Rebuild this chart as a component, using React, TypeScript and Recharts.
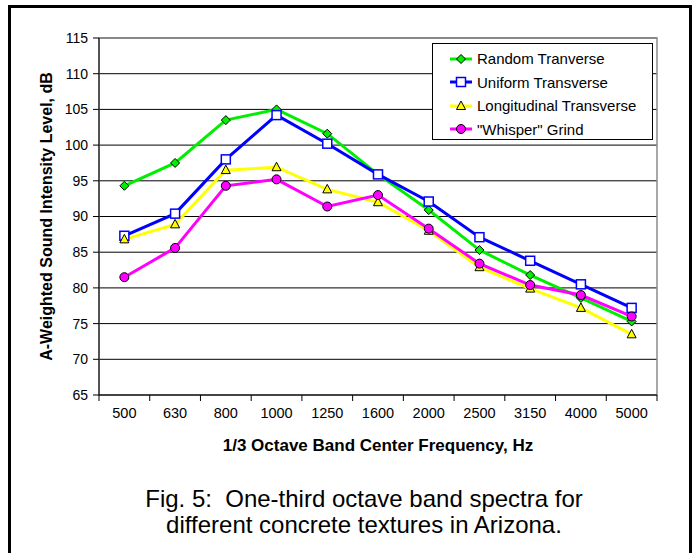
import React from 'react';
import { LineChart, Line, XAxis, YAxis, CartesianGrid, ReferenceArea, Label } from 'recharts';

// 1/3 octave band centre frequencies (Hz)
const categories = ['500', '630', '800', '1000', '1250', '1600', '2000', '2500', '3150', '4000', '5000'];

// A-weighted sound intensity level, dB
const randomTransverse = [94.3, 97.5, 103.5, 105.0, 101.6, 95.9, 90.9, 85.3, 81.8, 78.6, 75.3];
const uniformTransverse = [87.3, 90.4, 98.0, 104.2, 100.2, 95.9, 92.1, 87.1, 83.8, 80.5, 77.2];
const longitudinalTransverse = [86.8, 88.9, 96.5, 96.9, 93.8, 92.0, 88.0, 82.9, 79.9, 77.2, 73.5];
const whisperGrind = [81.5, 85.6, 94.3, 95.2, 91.4, 93.0, 88.3, 83.4, 80.4, 79.0, 76.0];

const yTicks = [65, 70, 75, 80, 85, 90, 95, 100, 105, 110, 115];

const series = [
  { key: 'random', name: 'Random Tranverse', color: '#00ee00', shape: 'diamond', values: randomTransverse },
  { key: 'uniform', name: 'Uniform Transverse', color: '#0000ff', shape: 'square', values: uniformTransverse },
  { key: 'longitudinal', name: 'Longitudinal Transverse', color: '#ffff00', shape: 'triangle', values: longitudinalTransverse },
  { key: 'whisper', name: '"Whisper" Grind', color: '#ff00ff', shape: 'circle', values: whisperGrind },
];

const data = categories.map((freq, i) => {
  const row: any = { freq };
  series.forEach((s) => { row[s.key] = s.values[i]; });
  return row;
});

const W = 698;
const H = 553;
const MARGIN = { top: 38, right: 41, bottom: 128, left: 39 };
const PLOT_W = W - MARGIN.left - MARGIN.right - 60;
const BAND = PLOT_W / categories.length;
const FONT = 'Arial, "Liberation Sans", sans-serif';

function Marker({ shape, cx, cy, color }: any) {
  if (cx == null || cy == null) return null;
  if (shape === 'diamond') {
    const r = 4.5;
    return <path d={`M${cx},${cy - r}L${cx + r},${cy}L${cx},${cy + r}L${cx - r},${cy}Z`} fill={color} stroke="#000" strokeWidth={1} />;
  }
  if (shape === 'square') {
    return <rect x={cx - 4.5} y={cy - 4.5} width={9} height={9} fill="#fff" stroke={color} strokeWidth={1.5} />;
  }
  if (shape === 'triangle') {
    return <path d={`M${cx},${cy - 5}L${cx + 4.5},${cy + 3.5}L${cx - 4.5},${cy + 3.5}Z`} fill={color} stroke="#000" strokeWidth={1} />;
  }
  return <circle cx={cx} cy={cy} r={4.5} fill={color} stroke="#000" strokeWidth={1} />;
}

// label in the middle of each band, tick marks on the band edges
const CategoryTick = ({ x, y, payload, index }: any) => {
  const axisY = y - 13;
  return (
    <g>
      <line x1={x - BAND / 2} x2={x - BAND / 2} y1={axisY} y2={axisY + 6} stroke="#000" />
      {index === categories.length - 1 && (
        <line x1={x + BAND / 2} x2={x + BAND / 2} y1={axisY} y2={axisY + 6} stroke="#000" />
      )}
      <text x={x} y={y} dy="0.71em" textAnchor="middle" fontSize={14.5} fontFamily={FONT} fill="#000">
        {payload.value}
      </text>
    </g>
  );
};

function ChartLegend() {
  return (
    <div
      style={{
        position: 'absolute', left: 432, top: 43, width: 221, height: 97,
        border: '1px solid #000', background: '#fff', boxSizing: 'border-box',
        paddingTop: 3,
      }}
    >
      {series.map((s) => (
        <div key={s.key} style={{ display: 'flex', alignItems: 'center', height: 23.5 }}>
          <svg width={26} height={14} style={{ marginLeft: 16 }}>
            <line x1={1} x2={23} y1={7} y2={7} stroke={s.color} strokeWidth={3} />
            <Marker shape={s.shape} cx={12} cy={7} color={s.color} />
          </svg>
          <span style={{ fontSize: 15, fontFamily: FONT, marginLeft: 2, whiteSpace: 'pre' }}>{s.name}</span>
        </div>
      ))}
    </div>
  );
}

export default function App() {
  return (
    <div style={{ position: 'absolute', left: 0, top: 0, width: W, height: H, background: '#fff', overflow: 'hidden', fontFamily: FONT }}>
      <div
        style={{
          position: 'absolute', left: 8, top: 5, width: 684, height: 620,
          border: '3px solid #000', boxSizing: 'border-box',
        }}
      />
      <div style={{ position: 'absolute', left: 0, top: 0 }}>
        <LineChart width={W} height={H} data={data} margin={MARGIN}>
          <CartesianGrid vertical={false} stroke="#000" strokeWidth={1} />
          <ReferenceArea y1={65} y2={115} fill="none" stroke="#8c8c8c" strokeWidth={1.5} ifOverflow="visible" />
          <XAxis
            dataKey="freq"
            scale="band"
            height={30}
            tickLine={false}
            tickSize={6}
            tickMargin={7}
            interval={0}
            axisLine={{ stroke: '#000' }}
            tick={<CategoryTick />}
          >
            <Label
              value="1/3 Octave Band Center Frequency, Hz"
              position="bottom"
              offset={14}
              style={{ fontSize: 17, fontWeight: 'bold', fontFamily: FONT, fill: '#000' }}
            />
          </XAxis>
          <YAxis
            width={60}
            domain={[65, 115]}
            ticks={yTicks}
            interval={0}
            tickSize={6}
            tickMargin={5}
            axisLine={{ stroke: '#000' }}
            tickLine={{ stroke: '#000' }}
            tick={{ fontSize: 14, fontFamily: FONT, fill: '#000' }}
          >
            <Label
              value="A-Weighted Sound Intensity Level, dB"
              angle={-90}
              position="insideLeft"
              offset={7}
              style={{ fontSize: 16, fontWeight: 'bold', fontFamily: FONT, fill: '#000', textAnchor: 'middle' }}
            />
          </YAxis>
          {series.map((s) => (
            <Line
              key={s.key}
              type="linear"
              dataKey={s.key}
              name={s.name}
              stroke={s.color}
              strokeWidth={3}
              isAnimationActive={false}
              dot={(p: any) => <Marker key={`${s.key}-${p.index}`} shape={s.shape} cx={p.cx} cy={p.cy} color={s.color} />}
              activeDot={false}
            />
          ))}
        </LineChart>
      </div>
      <ChartLegend />
      <div
        style={{
          position: 'absolute', left: 0, top: 486, width: 728, textAlign: 'center',
          fontSize: 24, lineHeight: '26px', fontFamily: FONT, whiteSpace: 'pre', color: '#000',
        }}
      >
        {'Fig. 5:  One-third octave band spectra for'}
        <br />
        {'different concrete textures in Arizona.'}
      </div>
    </div>
  );
}
